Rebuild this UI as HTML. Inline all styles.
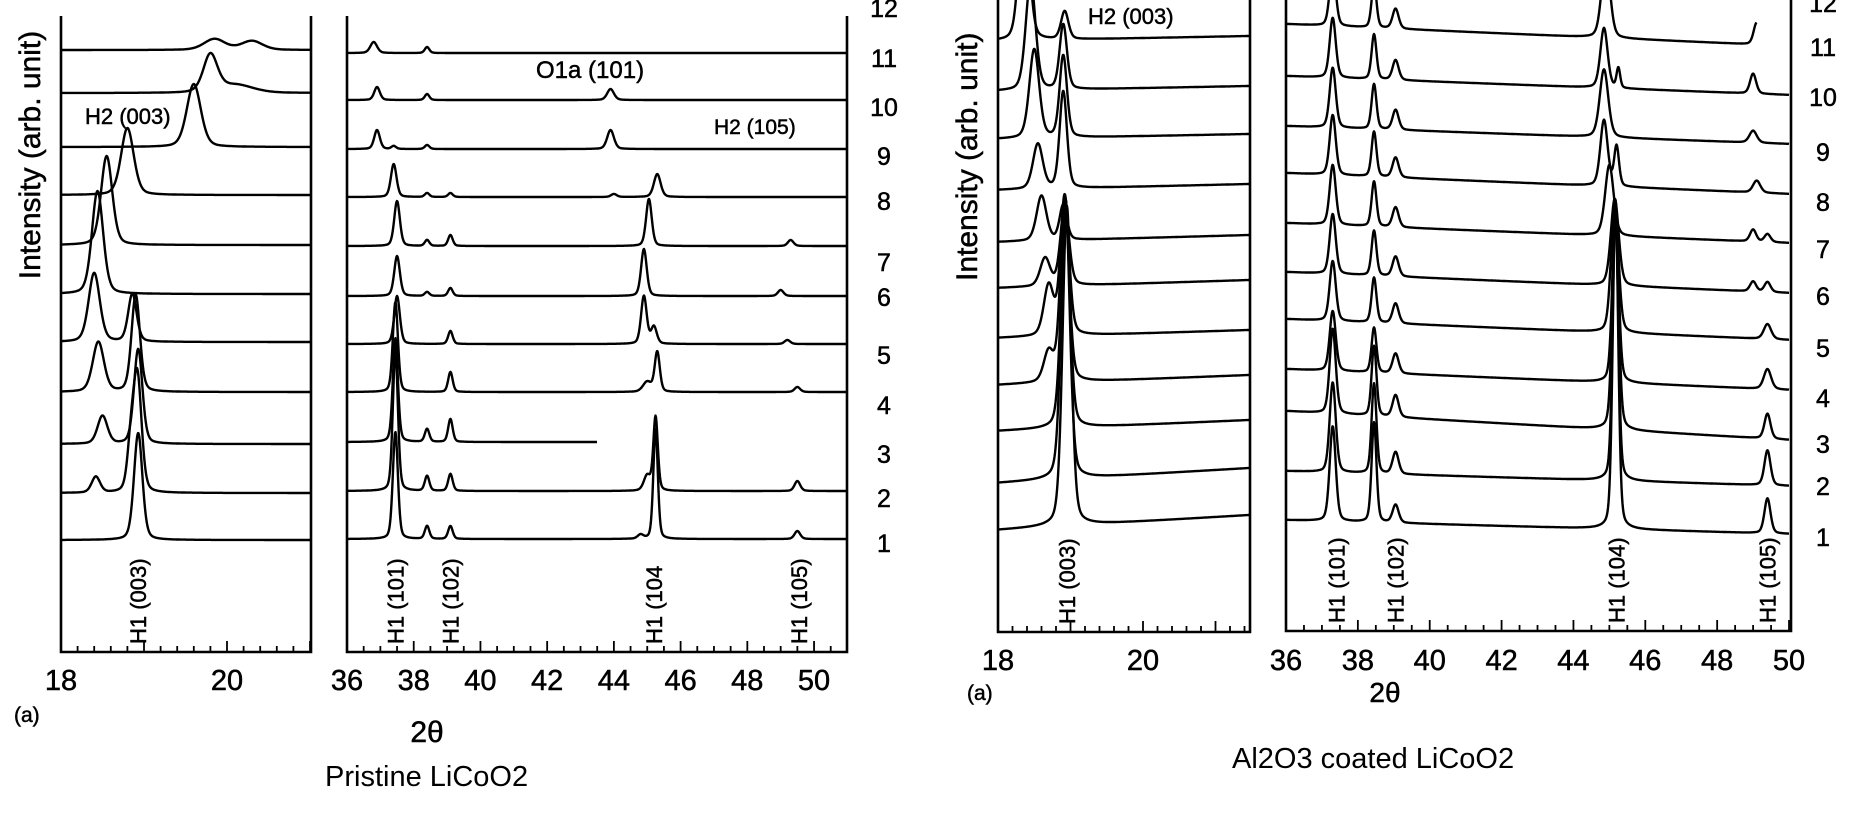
<!DOCTYPE html>
<html><head><meta charset="utf-8">
<style>
html,body{margin:0;padding:0;background:#fff;}
svg{display:block;}
text{font-family:"Liberation Sans",Arial,sans-serif;fill:#000;stroke:#000;stroke-width:0.5px;}
.cap{stroke-width:0;}
</style></head>
<body>
<svg id="fig" width="1855" height="820" viewBox="0 0 1855 820" xmlns="http://www.w3.org/2000/svg">
  <g id="left-fig"></g>
  <g id="right-fig"></g>
  <text transform="translate(40,155) rotate(-90)" text-anchor="middle" font-size="30">Intensity (arb. unit)</text>
  <text transform="translate(977,281) rotate(-90)" text-anchor="start" font-size="30">Intensity (arb. unit)</text>
  <text x="85" y="124" font-size="22">H2 (003)</text>
  <text x="536" y="78" font-size="24">O1a (101)</text>
  <text x="714" y="134" font-size="21">H2 (105)</text>
  <text x="1088" y="24" font-size="22">H2 (003)</text>
  <text x="14" y="722" font-size="21">(a)</text>
  <text x="967" y="700" font-size="21">(a)</text>
  <text x="427" y="742" text-anchor="middle" font-size="30" font-family="Liberation Serif">2θ</text>
  <text x="1385" y="702" text-anchor="middle" font-size="28" font-family="Liberation Serif">2θ</text>
  <text class="cap" x="325" y="786" font-size="29">Pristine LiCoO2</text>
  <text class="cap" x="1232" y="768" font-size="29">Al2O3 coated LiCoO2</text>
</svg>
<script>
// ---------- DATA ----------
const traceIds = [1,2,3,4,5,6,7,8,9,10,11];
const p1Base = [540,493,444,392,342,294,245,195,147,93,50];
const p1Peaks = [
  [[18.93,107,0.06]],
  [[18.42,16,0.06],[18.84,40,0.05],[18.92,116,0.06]],
  [[18.5,28,0.07],[18.93,95,0.06]],
  [[18.45,50,0.08],[18.9,97,0.06]],
  [[18.4,69,0.08],[18.86,48,0.06]],
  [[18.44,103,0.08]],
  [[18.55,89,0.08]],
  [[18.8,67,0.09]],
  [[19.6,63,0.1]],
  [[19.8,37,0.1],[20.1,8,0.25]],
  [[19.85,11,0.15],[20.3,9,0.15]]
];
const p2Base = [539,491,442,392,344,296,246,197,149,100,53];
const p2End = [51,51,43.5,51,51,51,51,51,51,51,51];
const p2Peaks = [
  [[37.45,107,0.09],[38.4,13,0.08],[39.1,13,0.08],[44.8,4,0.1],[45.25,110,0.08],[49.5,8,0.1]],
  [[37.45,140,0.09],[38.4,15,0.08],[39.1,17,0.08],[45.0,15,0.12],[45.25,74,0.08],[49.5,10,0.1]],
  [[37.45,104,0.09],[38.4,13,0.08],[39.1,23,0.08]],
  [[37.45,90,0.09],[39.1,20,0.08],[45.0,10,0.15],[45.3,40,0.09],[49.5,5,0.1]],
  [[37.5,48,0.1],[39.1,13,0.08],[44.9,48,0.1],[45.2,17,0.1],[49.2,4,0.1]],
  [[37.5,40,0.1],[38.4,4,0.08],[39.1,8,0.08],[44.9,47,0.1],[49.0,6,0.1]],
  [[37.5,45,0.1],[38.4,6,0.08],[39.1,11,0.08],[45.05,47,0.1],[49.3,6,0.1]],
  [[37.4,33,0.1],[38.4,4,0.08],[39.1,4,0.08],[44.0,3,0.1],[45.3,23,0.12]],
  [[36.9,19,0.1],[37.4,3,0.08],[38.4,4,0.08],[43.9,19,0.12]],
  [[36.9,13,0.1],[38.4,6,0.08],[43.9,11,0.12]],
  [[36.8,11,0.12],[38.4,6,0.08]]
];
const p3BaseL = [530,483,431,385,338,288,242,190,139,91,41];
const p3BaseR = [515,468,420,375,330,280,235,184,134,86,36];
const p3Peaks = [
  [[18.95,320,0.07]],
  [[18.93,280,0.07]],
  [[18.93,230,0.07]],
  [[18.92,185,0.07],[18.7,30,0.08]],
  [[18.92,140,0.07],[18.7,50,0.08]],
  [[18.92,80,0.07],[18.65,28,0.08]],
  [[18.6,45,0.08],[18.9,35,0.06]],
  [[18.55,45,0.08],[18.9,97,0.06]],
  [[18.5,89,0.08],[18.9,82,0.06]],
  [[18.45,110,0.08],[18.9,65,0.06]],
  [[18.36,150,0.08],[18.92,28,0.06]]
];
const p4BaseL = [520,471,411,369,319,272,223,173,126,76,24];
const p4BaseR = [534,486,440,390,340,293,243,194,144,95,46];
const p4End = [50,50,50,50,50,50,50,50,50,50,49.1];
const p4Peaks = [
  [[37.3,95,0.1],[38.45,100,0.08],[39.05,18,0.1],[45.17,326,0.09],[49.4,35,0.1]],
  [[37.3,90,0.1],[38.45,90,0.08],[39.05,22,0.1],[45.17,278,0.09],[49.4,35,0.1]],
  [[37.3,85,0.1],[38.45,70,0.08],[39.05,22,0.1],[45.17,230,0.1],[49.4,25,0.1]],
  [[37.3,60,0.1],[38.45,45,0.08],[39.05,20,0.1],[45.17,180,0.1],[49.4,20,0.12]],
  [[37.3,60,0.1],[38.45,45,0.08],[39.05,20,0.1],[45.15,134,0.12],[49.4,15,0.12]],
  [[37.3,60,0.1],[38.45,45,0.08],[39.05,20,0.1],[45.15,87,0.13],[49.0,10,0.1],[49.4,10,0.1]],
  [[37.3,60,0.1],[38.45,45,0.08],[39.05,20,0.1],[45.0,71,0.14],[49.0,12,0.1],[49.4,8,0.1]],
  [[37.3,60,0.1],[38.45,45,0.08],[39.05,20,0.1],[44.85,66,0.12],[45.2,40,0.08],[49.1,12,0.12]],
  [[37.3,60,0.1],[38.45,45,0.08],[39.05,20,0.1],[44.85,68,0.14],[49.0,12,0.12]],
  [[37.3,60,0.1],[38.45,45,0.08],[39.05,20,0.1],[44.85,60,0.12],[45.25,20,0.06],[49.0,20,0.1]],
  [[37.3,60,0.1],[38.45,45,0.08],[39.05,20,0.1],[44.9,80,0.14],[49.1,22,0.1]]
];
const leftNumLabels = ["1","2","3","4","5","6","7","8","9","10","11","12"];
const leftNumY = [543,498,454,405,355,297,262,201,156,107,58,8];
const rightNumLabels = ["1","2","3","4","5","6","7","8","9","10","11","12"];
const rightNumY = [537,486,444,398,348,296,249,202,152,97,47,3];
const p1Ticks = [18,20];
const p2Ticks = [36,38,40,42,44,46,48,50];
const p3Ticks = [18,20];
const p4Ticks = [36,38,40,42,44,46,48,50];
const p1Idx = [["H1 (003)",18.93]];
const p2Idx = [["H1 (101)",37.45],["H1 (102)",39.1],["H1 (104",45.2],["H1 (105)",49.55]];
const p3Idx = [["H1 (003)",18.95]];
const p4Idx = [["H1 (101)",37.4],["H1 (102)",39.05],["H1 (104)",45.2],["H1 (105)",49.4]];

// ---------- DRAW ----------
const NS="http://www.w3.org/2000/svg";
function mk(tag,attrs,parent){const e=document.createElementNS(NS,tag);for(const k in attrs)e.setAttribute(k,attrs[k]);parent.appendChild(e);return e;}
function prof(x,peaks){let s=0;for(const p of peaks){const d=(x-p[0])/p[2];s+=p[1]*(0.7*Math.exp(-0.693*d*d)+0.3/(1+d*d));}return s;}

function panel(g,cfg){
  const xs=t=>cfg.x0+(t-cfg.t0)*cfg.k;
  const fr=mk('path',{d:`M${cfg.x0},${cfg.top}V${cfg.bottom}H${cfg.xr}V${cfg.top}`,fill:'none',stroke:'#000','stroke-width':2.6},g);
  
  
  const tmax=cfg.t0+(cfg.xr-cfg.x0)/cfg.k;
  for(let t=cfg.t0;t<=tmax+1e-6;t+=cfg.minor){
    const isMaj=Math.abs(t/cfg.major-Math.round(t/cfg.major))<1e-6;
    const len=isMaj?11:6;
    const tk=mk('line',{x1:xs(t),x2:xs(t),y1:cfg.bottom,y2:cfg.bottom-len,stroke:'#000','stroke-width':1.8},g);
    
    
  }
  for(const v of cfg.ticks){
    const tl=mk('text',{x:xs(v),y:cfg.labelY,'text-anchor':'middle','font-size':cfg.fs},g);
    tl.textContent=v;
    
    
  }
  for(let i=0;i<cfg.peaks.length;i++){
    const end=cfg.ends?cfg.ends[i]:tmax;
    const bl=cfg.baseL[i], br=cfg.baseR?cfg.baseR[i]:bl;
    let d='';
    for(let px=cfg.x0+1;px<=xs(end);px+=0.5){
      const t=cfg.t0+(px-cfg.x0)/cfg.k;
      const b=bl+(br-bl)*(t-cfg.t0)/(tmax-cfg.t0);
      const y=b-prof(t,cfg.peaks[i]);
      d+=(d?'L':'M')+px.toFixed(1)+','+Math.max(y,-20).toFixed(1);
    }
    const p=mk('path',{d:d,fill:'none',stroke:'#000','stroke-width':2.4,'stroke-linejoin':'round'},g);
    
    
  }
  for(const [txt,t] of cfg.idx){
    const l=mk('text',{transform:`translate(${xs(t)+8},${cfg.bottom-8}) rotate(-90)`,'font-size':22},g);
    l.textContent=txt;
    
    
  }
}

const L=document.getElementById('left-fig');
const R=document.getElementById('right-fig');
panel(L,{name:'pristine-low',x0:61,xr:311,t0:18,k:83,top:16,bottom:652,minor:0.2,major:1,ticks:p1Ticks,labelY:690,fs:29,peaks:p1Peaks,baseL:p1Base,idx:p1Idx});
panel(L,{name:'pristine-high',x0:347,xr:847,t0:36,k:33.36,top:16,bottom:652,minor:0.5,major:2,ticks:p2Ticks,labelY:690,fs:29,peaks:p2Peaks,baseL:p2Base,ends:p2End,idx:p2Idx});
panel(R,{name:'coated-low',x0:998,xr:1250,t0:18,k:72.5,top:0,bottom:632,minor:0.2,major:1,ticks:p3Ticks,labelY:670,fs:29,peaks:p3Peaks,baseL:p3BaseL,baseR:p3BaseR,idx:p3Idx});
panel(R,{name:'coated-high',x0:1286,xr:1791,t0:36,k:35.93,top:0,bottom:631,minor:0.5,major:2,ticks:p4Ticks,labelY:670,fs:29,peaks:p4Peaks,baseL:p4BaseL,baseR:p4BaseR,ends:p4End,idx:p4Idx});

for(let i=0;i<leftNumLabels.length;i++){
  const t=mk('text',{x:884,y:leftNumY[i]+9,'text-anchor':'middle','font-size':25},L);
  t.textContent=leftNumLabels[i];
  
  
}
for(let i=0;i<rightNumLabels.length;i++){
  const t=mk('text',{x:1823,y:rightNumY[i]+9,'text-anchor':'middle','font-size':25},R);
  t.textContent=rightNumLabels[i];
  
  
}
</script>
</body></html>
